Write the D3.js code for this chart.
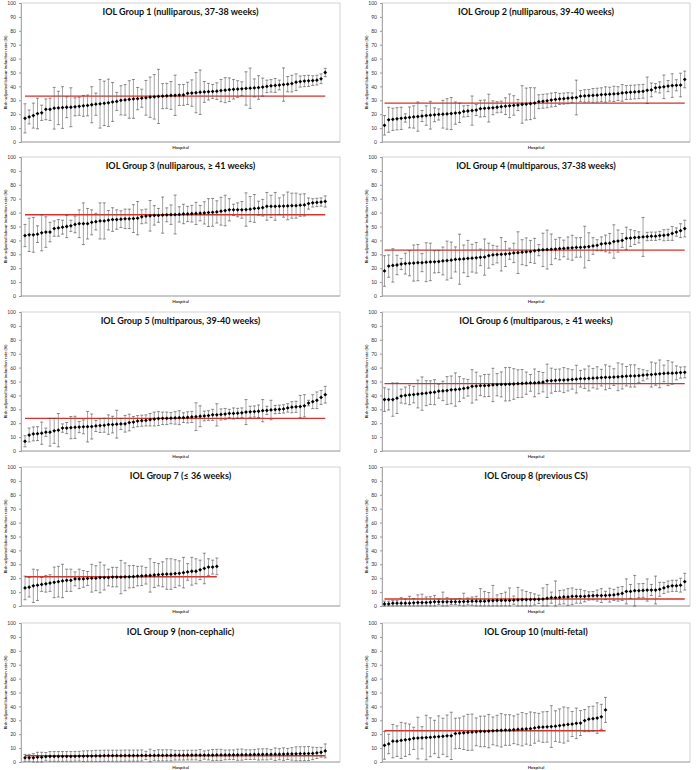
<!DOCTYPE html>
<html><head><meta charset="utf-8">
<script src="https://cdn.jsdelivr.net/npm/d3@7"></script>
<style>body{margin:0;background:#fff}svg{display:block}</style>
</head><body>
<svg id="c" width="700" height="770"></svg>
<script>
const titles = [
 "IOL Group 1 (nulliparous, 37-38 weeks)","IOL Group 2 (nulliparous, 39-40 weeks)",
 "IOL Group 3 (nulliparous, \u2265 41 weeks)","IOL Group 4 (multiparous, 37-38 weeks)",
 "IOL Group 5 (multiparous, 39-40 weeks)","IOL Group 6 (multiparous, \u2265 41 weeks)",
 "IOL Group 7 (\u2264 36 weeks)","IOL Group 8 (previous CS)",
 "IOL Group 9 (non-cephalic)","IOL Group 10 (multi-fetal)"];
const yTicks = [0,10,20,30,40,50,60,70,80,90,100];
const overallRate = [33,28,58.5,33,23.5,48.5,21,5,4.5,22.5];

const rate1=[17,18,19,20.5,21,23.5,23.5,24.3,24.5,24.8,25,25,25.3,25.7,26,26.3,26.8,27.2,27.5,27.8,28.2,28.8,29.2,30,30.3,30.6,31,31.2,31.5,31.8,32.2,32.5,32.8,33,33.2,33.5,33.6,33.8,33.9,35,35.2,35.5,35.8,36,36.2,36.4,36.6,37,37.3,37.6,37.9,38.1,38.3,38.5,38.7,38.9,39.2,39.5,40,40.4,40.7,41,41.3,41.6,42,43,43.5,43.8,44,44.2,44.5,45.5,50];
const err1=[10.5,5,9,11,5.5,7.5,8,15,12,15,7.5,14,6.5,6.5,7.5,7.5,13,8,17.5,16,17,14,6.5,10.5,11,13.5,14,8,6.5,12.5,14.5,16,19.5,9,9,10,14.5,7.5,7.5,8,9.5,14.5,16,7.5,6,5,6,8,9,8.5,7,6,5,12,14.5,6.5,8.5,6.5,4.5,4.5,5,3.5,12,5.5,6,6,4,4,4,3.5,3.5,3.5,3];
const rate2=[12,16,16.3,16.7,17,17.3,17.7,18,18.3,18.7,19,19.3,19.6,19.8,20,20.2,20.5,20.8,21,22,22.3,22.6,23,24,24.2,24.4,24.6,25,25.4,25.8,26,26.3,26.6,27,27.3,27.6,28,29,29.3,29.6,30.2,30.6,31,31.2,31.5,31.8,32,33,33.1,33.3,33.5,33.7,34,34.2,34.4,34.6,34.8,35.3,35.6,35.8,36,36.2,36.5,37.2,37.5,39,39.3,39.7,40.2,40.6,40.8,41,45];
const err2=[7,9,8,8,8,3,7.5,8,10.5,4,7,10,5,4,10,11,11.5,8,7,4,4,10.5,4,6,6,10,5,4,4,6,8.5,7,4,13.5,11.5,11.5,11,5,5,5,5,5,4,4,4,3.5,12.5,4,4.5,4.5,5,5,5,5.5,5,5.5,5,6,5,5,5,5,5,9.5,5,3,4,8.5,4,8.5,4,8.5,6];
const rate3=[43.5,44,44,44.5,45.5,46,46,48.5,49,49.5,50,50.5,51.5,52,52,52,53,53.5,54,54,54.5,55,55,55.3,55.5,55.5,55.7,56,57,57.5,57.7,58,58,58.2,58.4,58.5,58.6,58.7,59,59,59.2,59.4,59.6,59.8,60,60.2,60.5,61,61.5,62,62,62,62,62.2,62.5,63,63.2,63.5,64.5,64.5,64.5,64.6,64.7,64.8,65,65,65.3,65.5,66.5,67,67.3,67.6,68];
const err3=[8,12,12.5,6,13,11,7,5.5,6,5,8,4,6,10,15,11,9,6,13,13,7,8.5,7,6,7,7,10,12,5,5,11,7,5,13,5,7,14,5.5,7,5.5,6,8,5.5,8,10,10,8,10,11,8,4,5,6,12,9,10,5,6,10,8,10,6,8,10,9,9,8,8,4,3,3,3,4];
const rate4=[18,21.5,22,22.3,23,23.3,23.5,23.7,24,24,24.3,24.5,24.6,24.8,25.2,25.5,25.8,26.3,26.5,26.7,27,27.2,27.5,27.8,28,29,29.5,29.8,30,30.2,30.4,31,31.2,31.5,31.8,32,32.5,33,33.2,33.4,33.6,33.8,34,34.2,34.5,34.7,34.9,35,35.2,35.5,36,36.5,37.5,37.8,38,39.2,39.5,40,41.5,41.7,42,42.2,42.5,42.8,43,43,43.5,43.7,44,45,46,47,48.5];
const err4=[11,8,12,7,4,7.5,9,13,13,6.5,14,13.5,8,8,10,14,13,9,18,10,13,10,11,6,13,9,7,6,12,9,4,7,15,9,10,8,9,4,12,14,11,7,8,6,8,9,7,7,15,10,6,4,5,6,7,12,8,5,8,6,5,4,14,3,3,3,3,4,4,5,3,5,6];
const rate5=[7,11.5,12.3,12.5,12.8,13.5,13.5,14.5,15,16.5,16.5,16.8,17,17.2,17.4,17.5,17.6,18,18.3,18.5,19,19,19.3,19.5,19.6,20.5,20.8,21.5,21.8,22,22.5,23,23.3,23.5,23.5,23.6,23.8,24,24,24.2,24.5,24.7,25,25.2,25.5,26,26,26.3,26.6,27,27,27.2,27.5,28,28.2,28.4,28.6,29,29.2,29.5,29.8,30,30.3,31,31.5,31.8,32,32.5,34.5,35.5,36.5,38.5,40.5];
const err5=[4,5,5,5,8,3,10,9,12,3,4,8,8,4,5,11,9,4,5,5,7,6,10,4,6,6,4,4,4,4,4.5,5,5,4.5,4.5,4,4.5,5,3.5,4,4,10,7.5,3.5,3.5,4,8,4,4,3,4,3.5,3.5,9,4,4,4.5,8,3,7,3,3,3,3,4,4,8,8,2,5,6,5,6];
const rate6=[37,37,37,38,39.5,40,40.3,40.6,41,41.3,41.6,42,42.3,43,43.2,43.5,44,44.2,44.5,45,45.5,46.5,46.7,47,47,47.2,47.5,47.7,47.9,48,48.1,48.2,48.4,48.6,48.8,49,49,49.2,49.5,50.5,50.6,50.8,51,51,51.2,51.5,51.7,52,52,52.2,52.4,52.6,52.8,53,53,53.2,53.4,53.6,53.8,54,54,54.2,54.5,54.8,55,55.3,55.5,55.8,56,56,56.2,56.4,56.6];
const err6=[8.5,7.5,12,11,5,6,7,6,10,12,9,8.5,9,5,7,10,10,12,9,7,6,12,10,7,8,8,12,8,9,12,12,11,10,10,8,6,10,8,7,12,9,8,8,9,8,7,10,6,7,9,7,8,6,9,8,6,10,9,7,8,8,5,4,3,9,8,10,6,9,8,5,4,4];
const rate7=[13,13.5,14.5,15,15.5,16,16.5,17,17.5,18,18.5,18.5,19.5,19.5,19.5,19.8,20,20,20.5,20.5,20.5,20.8,20.8,20.8,21,21,21.2,21.5,21.7,21.8,22,22.3,22.5,22.8,23,23,23.3,23.5,24,24.5,25,25,26,27,28,28,28.5];
const err7=[8.5,7,12,11,5,6,6,11,11,12,8,8,5,7,6,5,10,9,11,9,6,7,7,12,10,8,8,7,7,6,12,9,8,9,11,11,10,9,11,6,10,9,7,11,6,5,6];
const rate8=[1.5,1.5,2,2,2,2,2,2.3,2.5,2.5,2.5,2.7,3,3,3,3,3,3,3,3.2,3.3,3.5,3.5,3.5,3.5,3.7,3.8,4,4,4,4,4.2,4.4,4.5,4.5,4.6,4.7,4.8,5,5.5,6,6,6.2,6.5,6.5,7,7,7,7,7.2,7.4,7.5,7.5,7.6,7.8,8,8.5,9,10.5,10.5,11,11,11.2,11.5,11.5,11.5,12,13,14,14.5,14.5,15,17.5];
const err8=[2,2,2,2,4,3,5,3,5.5,6,4,4,4.5,2,7,3,2,2,2.5,6,2.5,3,3.5,9,7,6,11,4,5,6,9,3,9,7,6,5,4,3,8,10,4,12,5,5,6,6,5,5,4,3,3,4,5,3,5,4,5,5,9,5,11,5,5,8,4,10,5,4,4,4,4,5,6];
const rate9=[3,3,3,3.5,3.5,3.8,4,4,4,4,4,4,4.1,4.2,4.2,4.3,4.3,4.4,4.4,4.5,4.5,4.5,4.5,4.5,4.6,4.6,4.6,4.6,4.7,4.7,4.7,4.7,4.8,4.8,4.8,4.8,4.9,4.9,4.9,5,5,5,5,5,5,5,5.1,5.1,5.1,5.2,5.2,5.2,5.3,5.3,5.3,5.4,5.4,5.5,5.5,5.5,5.6,5.6,5.7,5.8,5.8,5.9,6,6,6.1,6.2,6.5,7,8];
const err9=[2.5,2.5,3,3.5,3.5,3,3.5,3.5,3.5,3.5,3.5,3.5,3.5,3.5,3.8,3.8,3.8,4,4,4,4,4,4,4,4,4,4,4,4,3,4.5,3.5,4,4,4,4,3.5,3.5,3.5,3.5,3.5,3.5,4,3,3.5,4,4,4,3.5,3.5,3.5,4,4,3.5,3.5,3.5,4,4,4,3.5,4.5,4,4.5,4,4.5,5,5,5,5,4.5,4,3.5,5];
const rate10=[12,13,15,15,15.5,16,16.3,17,17.2,17.4,17.6,17.8,18,18.2,18.5,18.8,18.8,20.5,20.7,21,21.3,21.5,21.7,22,22,22.2,22.4,22.6,22.8,23,23,23.2,23.4,23.6,23.8,24,24.5,25,25.1,25.3,25.5,25.8,26.2,26.6,27,27.3,27.8,28,29.8,30.8,31.2,31.6,32.5,37.5];
const err10=[10,7,12,11,13,12,11,8,15,8,16,14,12,15,13,15,17,11,11,12,13,13,10,11,11,12,10,11,12,11,11,10,11,12,11,12,11,10,11,11,15,11,12,13,12,9,11,9,8,9,9,11,9,9];

const rates=[rate1,rate2,rate3,rate4,rate5,rate6,rate7,rate8,rate9,rate10];
const errs=[err1,err2,err3,err4,err5,err6,err7,err8,err9,err10];

// layout
const colX = [{x0:21,x1:340,p0:25},{x0:382,x1:690,p0:384.5}];
const rowTop=[3,157,312,467,623], rowBot=[142,296,451,606,762];
const step=4.17;
const svg=d3.select("#c");
svg.append("rect").attr("width",700).attr("height",770).attr("fill","#fff");
const font="Lato, 'Liberation Sans', sans-serif";

for(let k=0;k<10;k++){
  const col=k%2, row=Math.floor(k/2);
  const L=colX[col];
  const y=d3.scaleLinear().domain([0,100]).range([rowBot[row],rowTop[row]]);
  const x=d3.scaleLinear().domain([0,72]).range([L.p0,L.p0+72*step]);
  const g=svg.append("g");
  // frame
  g.append("rect").attr("x",L.x0).attr("y",rowTop[row]).attr("width",L.x1-L.x0).attr("height",rowBot[row]-rowTop[row])
   .attr("fill","none").attr("stroke","#c8c8c8").attr("stroke-width",0.8);
  const ax=g.append("g").attr("transform",`translate(${L.x0},0)`)
    .call(d3.axisLeft(y).tickValues(yTicks).tickSize(2).tickPadding(3));
  ax.select(".domain").attr("stroke","#999").attr("stroke-width",0.8);
  ax.selectAll(".tick line").attr("stroke","#999");
  ax.selectAll("text").attr("font-size",5).attr("font-family",font).attr("fill","#333");
  g.append("line").attr("x1",L.x0).attr("x2",L.x1).attr("y1",rowBot[row]).attr("y2",rowBot[row]).attr("stroke","#999").attr("stroke-width",0.8);
  // labels
  g.append("text").attr("x",(L.x0+L.x1)/2).attr("y",rowTop[row]+12).attr("text-anchor","middle")
   .attr("font-family",font).attr("font-weight",700).attr("font-size",9).attr("fill","#111").text(titles[k]);
  g.append("text").attr("x",(L.x0+L.x1)/2).attr("y",rowBot[row]+7).attr("text-anchor","middle")
   .attr("font-family",font).attr("font-weight",700).attr("font-size",4.5).attr("fill","#333").text("Hospital");
  g.append("text").attr("transform",`translate(${L.x0-14},${(rowTop[row]+rowBot[row])/2}) rotate(-90)`).attr("text-anchor","middle")
   .attr("font-family",font).attr("font-weight",700).attr("font-size",4.3).attr("fill","#333").text("Risk-adjusted labour induction rate (%)");
  const v=rates[k], e=errs[k];
  const data=v.map((d,i)=>({i,v:d,lo:Math.max(0,d-(e[i]??5)),hi:Math.min(100,d+(e[i]??5))}));
  // mean line
  g.append("line").attr("x1",x(0)).attr("x2",x(v.length-1)).attr("y1",y(overallRate[k])).attr("y2",y(overallRate[k]))
   .attr("stroke","#d6312b").attr("stroke-width",1.4);
  const eb=g.append("g");
  eb.selectAll("line.v").data(data).join("line").attr("x1",d=>x(d.i)).attr("x2",d=>x(d.i))
    .attr("y1",d=>y(d.lo)).attr("y2",d=>y(d.hi)).attr("stroke","#666").attr("stroke-width",0.6);
  eb.selectAll("line.t").data(data).join("line").attr("x1",d=>x(d.i)-1.5).attr("x2",d=>x(d.i)+1.5)
    .attr("y1",d=>y(d.hi)).attr("y2",d=>y(d.hi)).attr("stroke","#444").attr("stroke-width",0.6);
  eb.selectAll("line.b").data(data).join("line").attr("x1",d=>x(d.i)-1.5).attr("x2",d=>x(d.i)+1.5)
    .attr("y1",d=>y(d.lo)).attr("y2",d=>y(d.lo)).attr("stroke","#444").attr("stroke-width",0.6);
  g.selectAll("path.pt").data(data).join("path")
    .attr("transform",d=>`translate(${x(d.i)},${y(d.v)})`)
    .attr("d",d3.symbol(d3.symbolDiamond2,9)).attr("fill","#000");
}
</script>
</body></html>
